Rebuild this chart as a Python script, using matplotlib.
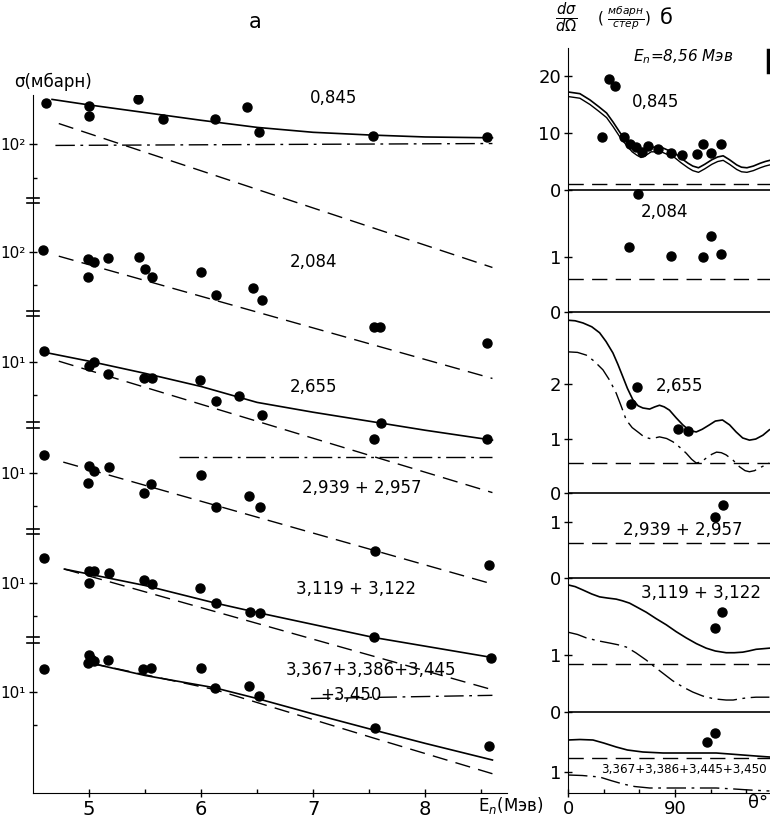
import matplotlib as mpl
import matplotlib.pyplot as plt
import numpy as np

mpl.rcParams["font.family"] = ["DejaVu Sans"]
mpl.rcParams["axes.unicode_minus"] = False

W, H = 770, 823

# ---------- panel a : integral cross sections vs E_n ----------
band_refs = [100, 100, 10, 10, 10, 10]
band_base = [5.90, 4.92, 3.92, 2.91, 1.91, 0.92]   # plotted decade of each band's reference
band_ticklabels = ["10²", "10²", "10¹", "10¹", "10¹", "10¹"]
band_names = ["0,845", "2,084", "2,655", "2,939 + 2,957", "3,119 + 3,122", "3,367+3,386+3,445"]

E1 = [4.62, 5.0, 5.0, 5.44, 5.66, 6.12, 6.41, 6.52, 7.53, 8.55]
s1 = [236, 226, 180, 257, 172, 169, 217, 131, 120, 118]
E2 = [4.59, 4.99, 5.04, 5.17, 5.45, 5.5, 4.99, 5.56, 6.0, 6.13, 6.46, 6.54, 7.54, 7.6, 8.55]
s2 = [105, 86, 82, 88, 90, 71, 60, 60, 66, 41, 47, 37, 21, 21, 15]
E3 = [4.6, 5.0, 5.04, 5.17, 5.49, 5.56, 5.99, 6.13, 6.34, 6.54, 7.54, 7.61, 8.55]
s3 = [12.6, 9.2, 10, 7.8, 7.2, 7.2, 6.9, 4.4, 4.9, 3.3, 2.0, 2.8, 2.0]
E4 = [4.6, 5.0, 5.04, 5.18, 4.99, 5.49, 5.55, 6.0, 6.13, 6.43, 6.53, 7.55, 8.57]
s4 = [14.6, 11.6, 10.4, 11.3, 8.1, 6.6, 7.9, 9.6, 4.9, 6.2, 4.9, 1.95, 1.45]
E5 = [4.6, 5.0, 5.04, 5.0, 5.18, 5.49, 5.56, 5.99, 6.13, 6.44, 6.53, 7.54, 8.59]
s5 = [16.9, 12.9, 12.9, 10, 12.3, 10.6, 9.8, 9.0, 6.6, 5.5, 5.3, 3.2, 2.1]
E6 = [4.6, 5.0, 5.02, 5.04, 4.99, 5.17, 5.48, 5.55, 6.0, 6.12, 6.43, 6.52, 7.55, 8.57]
s6 = [16.2, 21.7, 20, 19.2, 18.3, 19.5, 16.2, 16.6, 16.6, 10.9, 11.3, 9.2, 4.7, 3.2]

# calculated curves (E, sigma)
fit1_solid = ([4.67, 5.0, 5.5, 6.0, 6.5, 7.0, 7.5, 8.0, 8.6], [257, 229, 195, 166, 143, 129, 122, 117, 115])
fit1_dash = ([4.73, 8.6], [155, 7.6])
fit1_dd = ([4.7, 8.6], [98, 102])
fit2_dash = ([4.73, 8.6], [92, 7.1])
fit3_solid = ([4.6, 5.0, 5.5, 6.0, 6.5, 7.0, 7.5, 8.0, 8.6], [12.3, 10.2, 7.9, 6.0, 4.3, 3.5, 2.9, 2.4, 1.95])
fit3_dash = ([4.73, 8.6], [10.2, 0.65])
fit3_dd = ([5.8, 8.6], [1.38, 1.38])
fit4_dash = ([4.77, 8.6], [12.6, 0.98])
fit5_solid = ([4.78, 5.5, 6.12, 6.5, 7.0, 7.54, 8.6], [13.4, 9.5, 6.6, 5.4, 4.2, 3.2, 2.1])
fit5_dash = ([4.78, 8.6], [13.4, 1.07])
fit6_solid = ([5.02, 5.5, 6.12, 6.5, 7.0, 7.54, 8.0, 8.6], [18.2, 14.1, 10.9, 8.7, 6.3, 4.5, 3.4, 2.4])
fit6_dash = ([5.02, 6.12, 7.54, 8.6], [18.2, 10.5, 3.8, 1.8])
fit6_dd = ([6.98, 8.6], [8.7, 9.3])

# ---------- panel б : angular distributions at E_n = 8.56 MeV ----------
ang_zero = [603, 481, 300, 215, 81, -29]      # zero of each sub-plot (plot units)
ang_scale = [5.7, 55, 54.5, 56, 57, 50]       # plot units per mb/sr

thA = [28.6, 34.5, 39.5, 47, 52, 57, 62, 67, 75.7, 86.6, 95.9, 108.5, 113.5, 120, 128.7]
vA = [9.3, 19.5, 18.2, 9.3, 8.1, 7.5, 6.7, 7.7, 7.2, 6.5, 6.1, 6.3, 8.1, 6.5, 8.1]
thA_c = [0, 10, 18.5, 26, 32.5, 38, 44, 49, 54, 58, 61.4, 65, 70, 78.5, 84, 89.7, 95, 101, 105, 109.8, 115, 121, 126, 130.6, 136, 142, 146, 150.6, 156, 161.8, 166, 171.7]
vA_c1 = [17.2, 16.9, 15.8, 14.6, 13.5, 11.9, 10, 8.7, 7.5, 6.9, 6.5, 6.8, 7.5, 7.5, 7.0, 6.5, 5.6, 4.7, 4.2, 3.9, 4.5, 5.3, 5.8, 6.0, 5.3, 4.4, 4.0, 3.9, 4.2, 4.7, 5.0, 5.3]
vA_c2 = [16.4, 16.1, 15.0, 13.8, 12.7, 11.1, 9.2, 7.9, 6.7, 6.1, 5.7, 6.0, 6.7, 6.7, 6.2, 5.7, 4.8, 3.9, 3.4, 3.1, 3.7, 4.5, 5.0, 5.2, 4.5, 3.6, 3.2, 3.1, 3.4, 3.9, 4.2, 4.5]
vA_dash = 1.0

thB = [59, 51.5, 86.6, 113.5, 120, 128.7]
vB = [2.15, 1.18, 1.02, 1.0, 1.38, 1.05]
vB_dash = 0.6

thC = [58, 53, 92.5, 101]
vC = [1.94, 1.63, 1.17, 1.14]
thC_s = [0, 6, 12.6, 20, 26.6, 32, 37.8, 42, 46.2, 50, 54.6, 59, 63, 68.7, 73, 77, 81, 85.4, 91, 96.6, 102, 107.9, 113, 119, 124, 130, 136, 141.5, 147, 152.7, 158, 164, 169.5]
vC_s = [3.17, 3.16, 3.12, 3.05, 2.94, 2.78, 2.57, 2.36, 2.13, 1.92, 1.71, 1.6, 1.56, 1.54, 1.58, 1.61, 1.58, 1.52, 1.38, 1.25, 1.15, 1.12, 1.17, 1.25, 1.32, 1.34, 1.25, 1.12, 1.01, 0.97, 0.99, 1.06, 1.16]
thC_d = [0, 8, 15.4, 22, 29.4, 35, 40.6, 45, 49, 54, 60, 64, 68.7, 73, 77, 83, 88.3, 94, 99.5, 104, 107.9, 112, 116.3, 121, 125, 129, 133, 139, 144.4, 149, 152.7, 157, 161, 166, 169.5]
vC_d = [2.59, 2.58, 2.53, 2.42, 2.26, 2.07, 1.83, 1.58, 1.34, 1.2, 1.1, 1.03, 1.0, 1.01, 1.03, 1.0, 0.94, 0.84, 0.73, 0.62, 0.55, 0.57, 0.64, 0.71, 0.75, 0.74, 0.7, 0.6, 0.48, 0.41, 0.39, 0.41, 0.46, 0.51, 0.55]
vC_dash = 0.55

thD = [123.6, 130.4]
vD = [1.09, 1.3]
vD_dash = 0.63

thE = [129.5, 123.6]
vE = [1.75, 1.47]
thE_s = [0, 6, 12.6, 20, 26.6, 33, 40.6, 46, 51.8, 58, 65.9, 74, 82.7, 91, 99.5, 108, 116.3, 124, 133.1, 140, 147.1, 152, 158.3, 164, 169.5]
vE_s = [2.23, 2.2, 2.14, 2.07, 2.02, 2.0, 1.98, 1.95, 1.91, 1.84, 1.75, 1.64, 1.53, 1.41, 1.3, 1.2, 1.12, 1.07, 1.04, 1.04, 1.05, 1.07, 1.1, 1.11, 1.12]
thE_d = [0, 8, 15.4, 25, 35, 42, 49, 57, 65.9, 73, 79.9, 88, 96.6, 105, 113.5, 123, 133.1, 139, 144.4, 151, 158.3, 164, 169.5]
vE_d = [1.4, 1.36, 1.3, 1.25, 1.21, 1.18, 1.14, 1.04, 0.91, 0.79, 0.68, 0.55, 0.44, 0.35, 0.28, 0.23, 0.21, 0.21, 0.23, 0.25, 0.26, 0.26, 0.26]
vE_dash = 0.84

thF = [117, 123.6]
vF = [1.6, 1.78]
thF_s = [0, 10, 21, 30, 40.6, 50, 63, 80, 96.6, 110, 124.7, 136, 147, 158, 169.5]
vF_s = [1.64, 1.65, 1.64, 1.58, 1.5, 1.44, 1.4, 1.38, 1.38, 1.38, 1.38, 1.36, 1.34, 1.32, 1.3]
thF_d = [0, 12, 26.6, 36, 46.2, 56, 68.7, 80, 96.6, 110, 124.7, 140, 152.7, 169.5]
vF_d = [0.94, 0.93, 0.9, 0.83, 0.76, 0.71, 0.68, 0.68, 0.68, 0.68, 0.68, 0.66, 0.64, 0.62]
vF_dash = 1.28

DASH = (0, (11, 6))
DASHDOT = (0, (14, 4, 2, 4))


def fx(px):
    return px / W


def fy(py):
    return 1 - py / H


def ly(k, s):
    return band_base[k] + np.log10(np.asarray(s, dtype=float) / band_refs[k])


fig = plt.figure(figsize=(7.7, 8.23), dpi=100)

# left panel
ax = fig.add_axes([fx(33), fy(793), fx(507 - 33), (793 - 95) / H])
ax.set_xlim(4.5, 8.73)
ax.set_ylim(0, 6.35)
for sp in ["top", "right"]:
    ax.spines[sp].set_visible(False)

pts = [(E1, s1), (E2, s2), (E3, s3), (E4, s4), (E5, s5), (E6, s6)]
for k, (e, s) in enumerate(pts):
    ax.plot(e, ly(k, s), "o", color="k", ms=6.5, zorder=3)

lw = 1.2
ax.plot(fit1_solid[0], ly(0, fit1_solid[1]), "-", color="k", lw=lw)
ax.plot(fit1_dash[0], ly(0, fit1_dash[1]), color="k", lw=1.0, ls=DASH)
ax.plot(fit1_dd[0], ly(0, fit1_dd[1]), color="k", lw=1.0, ls=DASHDOT)
ax.plot(fit2_dash[0], ly(1, fit2_dash[1]), color="k", lw=1.0, ls=DASH)
ax.plot(fit3_solid[0], ly(2, fit3_solid[1]), "-", color="k", lw=lw)
ax.plot(fit3_dash[0], ly(2, fit3_dash[1]), color="k", lw=1.0, ls=DASH)
ax.plot(fit3_dd[0], ly(2, fit3_dd[1]), color="k", lw=1.0, ls=DASHDOT)
ax.plot(fit4_dash[0], ly(3, fit4_dash[1]), color="k", lw=1.0, ls=DASH)
ax.plot(fit5_solid[0], ly(4, fit5_solid[1]), "-", color="k", lw=lw)
ax.plot(fit5_dash[0], ly(4, fit5_dash[1]), color="k", lw=1.0, ls=DASH)
ax.plot(fit6_solid[0], ly(5, fit6_solid[1]), "-", color="k", lw=lw)
ax.plot(fit6_dash[0], ly(5, fit6_dash[1]), color="k", lw=1.0, ls=DASH)
ax.plot(fit6_dd[0], ly(5, fit6_dd[1]), color="k", lw=1.0, ls=DASHDOT)

ax.set_xticks([5, 6, 7, 8])
ax.set_xticklabels(["5", "6", "7", "8"], fontsize=14)
ax.set_xticks([5.5, 6.5, 7.5, 8.5], minor=True)
ax.set_yticks(band_base)
ax.set_yticklabels(band_ticklabels, fontsize=11)
ax.set_yticks([b - np.log10(2) for b in band_base], minor=True)
ax.tick_params(axis="both", which="major", direction="inout", length=6, width=1, pad=2)
ax.tick_params(axis="both", which="minor", direction="in", length=3, width=1)

# axis breaks between bands
for yb in [5.39, 4.36, 3.35, 2.38, 1.39]:
    ax.plot([-0.012, 0.012], [yb + 0.025, yb + 0.025], color="k", lw=1.2, transform=ax.get_yaxis_transform(), clip_on=False)
    ax.plot([-0.012, 0.012], [yb - 0.025, yb - 0.025], color="k", lw=1.2, transform=ax.get_yaxis_transform(), clip_on=False)

# band labels
label_pos = [(310, 98), (290, 262), (290, 387), (302, 488), (296, 589), (286, 670)]
for (px, py), name in zip(label_pos, band_names):
    fig.text(fx(px), fy(py), name, fontsize=12, ha="left", va="center")
fig.text(fx(320), fy(695), "+3,450", fontsize=12, ha="left", va="center")
fig.text(fx(255), fy(22), "a", fontsize=15, ha="center", va="center")
fig.text(fx(14), fy(82), "σ(мбарн)", fontsize=12, ha="left", va="center")
fig.text(fx(478), fy(805), "E$_n$(Мэв)", fontsize=12, ha="left", va="center")

# right panel
bx = fig.add_axes([fx(568), fy(793), fx(W - 568), (793 - 48) / H])
bx.set_xlim(0, 170)
bx.set_ylim(0, 745)
for sp in ["top", "right"]:
    bx.spines[sp].set_visible(False)


def ay(k, v):
    return ang_zero[k] + ang_scale[k] * np.asarray(v, dtype=float)


# zero lines
for k in range(5):
    bx.axhline(ang_zero[k], color="k", lw=1.2)

bx.plot(thA, ay(0, vA), "o", color="k", ms=6.5, zorder=3)
bx.plot(thA_c, ay(0, vA_c1), "-", color="k", lw=1.2)
bx.plot(thA_c, ay(0, vA_c2), "-", color="k", lw=1.0)
bx.axhline(ay(0, vA_dash), color="k", lw=1.0, ls=DASH)

bx.plot(thB, ay(1, vB), "o", color="k", ms=6.5, zorder=3)
bx.axhline(ay(1, vB_dash), color="k", lw=1.0, ls=DASH)

bx.plot(thC, ay(2, vC), "o", color="k", ms=6.5, zorder=3)
bx.plot(thC_s, ay(2, vC_s), "-", color="k", lw=1.2)
bx.plot(thC_d, ay(2, vC_d), color="k", lw=1.0, ls=DASHDOT)
bx.axhline(ay(2, vC_dash), color="k", lw=1.0, ls=DASH)

bx.plot(thD, ay(3, vD), "o", color="k", ms=6.5, zorder=3)
bx.axhline(ay(3, vD_dash), color="k", lw=1.0, ls=DASH)

bx.plot(thE, ay(4, vE), "o", color="k", ms=6.5, zorder=3)
bx.plot(thE_s, ay(4, vE_s), "-", color="k", lw=1.2)
bx.plot(thE_d, ay(4, vE_d), color="k", lw=1.0, ls=DASHDOT)
bx.axhline(ay(4, vE_dash), color="k", lw=1.0, ls=DASH)

bx.plot(thF, ay(5, vF), "o", color="k", ms=6.5, zorder=3)
bx.plot(thF_s, ay(5, vF_s), "-", color="k", lw=1.2)
bx.plot(thF_d, ay(5, vF_d), color="k", lw=1.0, ls=DASHDOT)
bx.axhline(ay(5, vF_dash), color="k", lw=1.0, ls=DASH)

rticks = [(0, 20), (0, 10), (0, 0), (1, 1), (1, 0), (2, 2), (2, 1), (2, 0), (3, 1), (3, 0), (4, 1), (4, 0), (5, 1)]
bx.set_yticks([float(ay(k, v)) for k, v in rticks])
bx.set_yticklabels([str(v) for k, v in rticks], fontsize=13)
bx.set_xticks([0, 90])
bx.set_xticklabels(["0", "90"], fontsize=13)
bx.set_xticks([30, 60, 120, 150], minor=True)
bx.tick_params(axis="both", which="major", direction="inout", length=6, width=1, pad=2)
bx.tick_params(axis="both", which="minor", direction="in", length=3, width=1)
bx.plot([168.5, 168.5], [721, 743], color="k", lw=2.5, clip_on=False)

fig.text(fx(555), fy(18), r"$\frac{d\sigma}{d\Omega}$", fontsize=15, ha="left", va="center")
fig.text(fx(597), fy(18), r"( $\frac{мбарн}{стер}$)", fontsize=11, ha="left", va="center")
fig.text(fx(666), fy(18), "б", fontsize=15, ha="center", va="center")
fig.text(fx(633), fy(57), "E$_n$=8,56 Мэв", fontsize=11, ha="left", va="center", style="italic")
fig.text(fx(656), fy(102), "0,845", fontsize=12, ha="center", va="center")
fig.text(fx(665), fy(212), "2,084", fontsize=12, ha="center", va="center")
fig.text(fx(656), fy(386), "2,655", fontsize=12, ha="left", va="center")
fig.text(fx(623), fy(530), "2,939 + 2,957", fontsize=12, ha="left", va="center")
fig.text(fx(641), fy(593), "3,119 + 3,122", fontsize=12, ha="left", va="center")
fig.text(fx(601), fy(769), "3,367+3,386+3,445+3,450", fontsize=8.6, ha="left", va="center")
fig.text(fx(748), fy(803), "θ°", fontsize=13, ha="left", va="center")

fig.savefig("out.png", dpi=100)
